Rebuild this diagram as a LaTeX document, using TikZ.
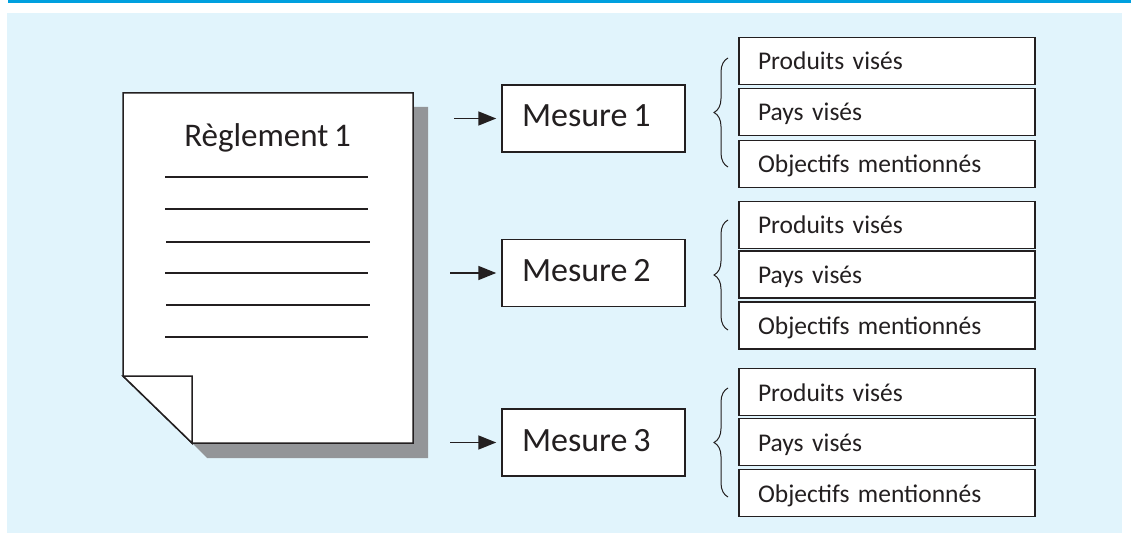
\documentclass[tikz,border=0pt]{standalone}
\usepackage{fontspec}
\setmainfont{Carlito}
\usetikzlibrary{arrows.meta,decorations.pathreplacing}
\definecolor{barblue}{RGB}{0,160,223}
\definecolor{panel}{RGB}{225,244,252}
\definecolor{dropgrey}{RGB}{147,149,152}
\definecolor{ink}{RGB}{35,31,32}
\newcommand\tightspace{\spaceskip 0.17em\relax}
\begin{document}
\begin{tikzpicture}[x=1pt,y=-1pt,
  mesure/.style={draw=ink, line width=1.5pt, fill=white, minimum width=183pt,
    minimum height=67pt, inner xsep=20pt, inner ysep=0pt, text width=143pt,
    align=left, font=\fontsize{34}{40}\selectfont,
    execute at begin node=\tightspace,
    text=ink, text height=21pt, text depth=4pt},
  item/.style={draw=ink, line width=1.3pt, fill=white, minimum width=296pt,
    minimum height=47pt, inner xsep=19pt, inner ysep=0pt, text width=258pt,
    align=left, font=\fontsize{25.5}{30}\selectfont, text=ink,
    text height=19pt, text depth=1pt},
  feed/.style={draw=ink, line width=1.6pt, -{Triangle[length=18pt,width=14pt]},
    shorten >=5pt},
  rulebar/.style={draw=ink, line width=2pt},
  grp/.style={draw=ink, line width=1pt, decorate,
    decoration={brace, amplitude=14pt}}
]
\useasboundingbox (0,0) rectangle (1131,534);
% header stripe and panel
\fill[barblue] (8,0) rectangle (1131,3);
\fill[panel] (7,13) rectangle (1122,533);

% the sheet with its drop shadow and folded corner
\fill[dropgrey] (138,107) -- (428,107) -- (428,458) -- (207,458) -- (138,389) -- cycle;
\filldraw[fill=white, draw=ink, line width=1.5pt]
  (123,93) -- (413,93) -- (413,443) -- (192,443) -- (123,376) -- cycle;
\filldraw[fill=white, draw=ink, line width=1.5pt]
  (123,376) -- (192,376) -- (192,443) -- cycle;
\node[anchor=base, font={\fontsize{33}{39}\selectfont\tightspace},
  text=ink, inner sep=0pt] (title) at (267.5,147) {Règlement 1};
\foreach \yy/\xa/\xb in {177/165/368, 209/165/368, 242/166/370,
                         273/165/368, 305/166/370, 337/165/368}
  \draw[rulebar] (\xa,\yy) -- (\xb,\yy);

% measures
\node[mesure] (m1) at (593.5,118.5) {Mesure 1};
\node[mesure] (m2) at (593.5,273) {Mesure 2};
\node[mesure] (m3) at (593.5,442.5) {Mesure 3};
\coordinate (s1) at (454,118.5);
\coordinate (s2) at (450,273);
\coordinate (s3) at (450,442.5);
\draw[feed] (s1) -- (m1);
\draw[feed] (s2) -- (m2);
\draw[feed] (s3) -- (m3);

% attributes of each measure
\node[item] (p1) at (887,61)    {Produits visés};
\node[item] (c1) at (887,112)   {Pays visés};
\node[item] (o1) at (887,164)   {Objectifs mentionnés};
\node[item] (p2) at (887,225)   {Produits visés};
\node[item] (c2) at (887,274.5) {Pays visés};
\node[item] (o2) at (887,325.5) {Objectifs mentionnés};
\node[item] (p3) at (887,392)   {Produits visés};
\node[item] (c3) at (887,442)   {Pays visés};
\node[item] (o3) at (887,493)   {Objectifs mentionnés};

% braces grouping the attributes
\draw[grp] (728,167) -- (728,58);
\draw[grp] (728,330) -- (728,220);
\draw[grp] (728,497) -- (728,388);
\end{tikzpicture}
\end{document}
